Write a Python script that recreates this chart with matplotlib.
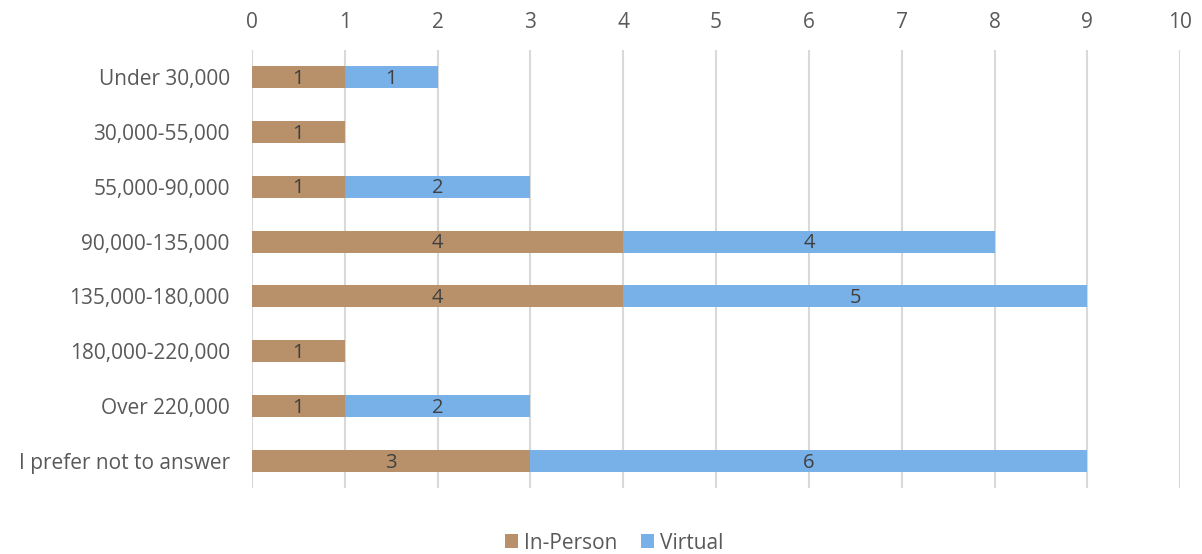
import numpy as np
import matplotlib.pyplot as plt

# income brackets, top to bottom
categories = ["Under 30,000", "30,000-55,000", "55,000-90,000", "90,000-135,000",
              "135,000-180,000", "180,000-220,000", "Over 220,000", "I prefer not to answer"]
in_person = [1, 1, 1, 4, 4, 1, 1, 3]
virtual = [1, 0, 2, 4, 5, 0, 2, 6]

brown = "#B8916A"
blue = "#78B1E7"
txt = "#595959"

plt.rcParams['font.family'] = ['Open Sans', 'DejaVu Sans']

fig = plt.figure(figsize=(12.02, 5.54), dpi=100)
ax = fig.add_axes([0.2097, 0.1184, 0.7721, 0.7921])

y = np.arange(len(categories))
h = 0.4
b1 = ax.barh(y, in_person, height=h, color=brown, label="In-Person", zorder=3)
b2 = ax.barh(y, virtual, height=h, left=in_person, color=blue, label="Virtual", zorder=3)

#value labels, skip the empty virtual bars
for bars, vals in [(b1, in_person), (b2, virtual)]:
    for bar, v in zip(bars, vals):
        if v == 0:
            continue
        ax.text(bar.get_x() + bar.get_width() / 2, bar.get_y() + bar.get_height() / 2 + 0.03,
                str(v), ha='center', va='center', fontsize=14.5, color="#404040", zorder=4)

ax.set_xlim(0, 10)
ax.set_ylim(len(categories) - 0.5, -0.5)
ax.set_xticks(range(0, 11))
ax.set_yticks(y)
ax.set_yticklabels(categories)
ax.xaxis.tick_top()
ax.tick_params(axis='both', length=0, labelsize=15, colors=txt)
ax.tick_params(axis='x', pad=12)
ax.tick_params(axis='y', pad=16)
ax.grid(axis='x', color="#D9D9D9", linewidth=1.5, zorder=0)
for s in ax.spines.values():
    s.set_visible(False)

fig.legend(loc='lower center', bbox_to_anchor=(0.511, -0.033), ncol=2, frameon=False,
           fontsize=15, labelcolor=txt, handlelength=0.65, handleheight=0.65,
           handletextpad=0.3, columnspacing=1.1)

fig.savefig("out.png", dpi=100)
